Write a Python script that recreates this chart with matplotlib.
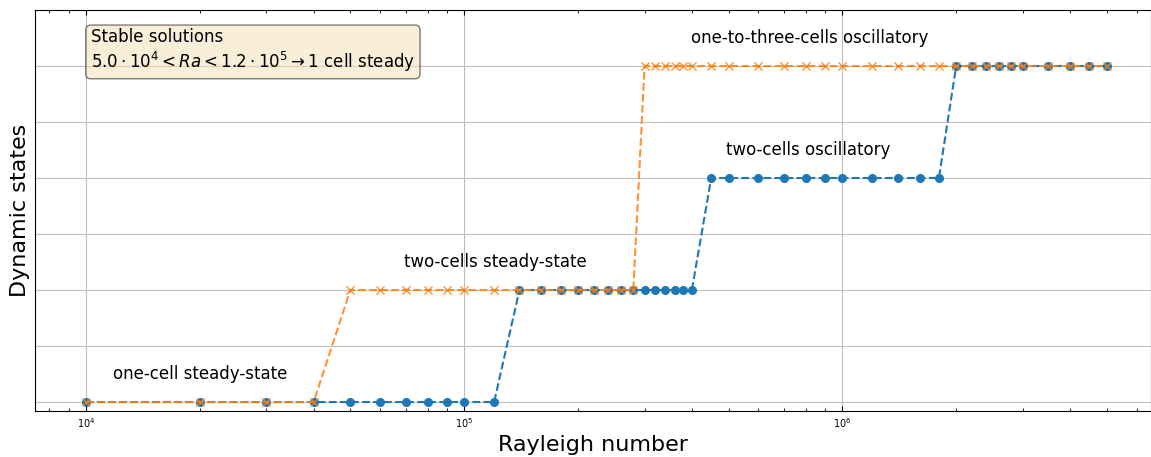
import numpy as np
import matplotlib
matplotlib.use("Agg")
import matplotlib.pyplot as plt

# Rayleigh numbers sampled
ra = [1e4, 2e4, 3e4, 4e4, 5e4, 6e4, 7e4, 8e4, 9e4, 1e5, 1.2e5,
      1.4e5, 1.6e5, 1.8e5, 2e5, 2.2e5, 2.4e5, 2.6e5, 2.8e5,
      3e5, 3.2e5, 3.4e5, 3.6e5, 3.8e5, 4e5,
      4.5e5, 5e5, 6e5, 7e5, 8e5, 9e5, 1e6, 1.2e6, 1.4e6, 1.6e6, 1.8e6,
      2e6, 2.2e6, 2.4e6, 2.6e6, 2.8e6, 3e6, 3.5e6, 4e6, 4.5e6, 5e6]

# dynamic state index (0 one-cell, 2 two-cells steady, 4 two-cells osc, 6 one-to-three osc)
state_up = [0]*11 + [2]*14 + [4]*11 + [6]*10
state_down = [0]*4 + [2]*15 + [6]*27

labels = ["one-cell steady-state", "two-cells steady-state",
          "two-cells oscillatory", "one-to-three-cells oscillatory"]
label_x = [2.0e4, 1.21e5, 8.13e5, 8.2e5]
label_y = [0.5, 2.5, 4.5, 6.5]

fig = plt.figure(figsize=(11.51, 4.57), dpi=100)
ax = fig.add_axes([0.0304, 0.1007, 0.9692, 0.8774])

ax.plot(ra, state_up, "o--", color="tab:blue", markersize=5.5)
ax.plot(ra, state_down, "x--", color="tab:orange", markersize=5.5, alpha=0.85)

for t, xx, yy in zip(labels, label_x, label_y):
    ax.text(xx, yy, t, fontsize=12, ha="center", va="center")

ax.text(0.05, 0.955, "Stable solutions\n$5.0\\cdot10^4 < Ra < 1.2\\cdot10^5 \\rightarrow 1$ cell steady",
        transform=ax.transAxes, fontsize=12, va="top", ha="left",
        bbox=dict(boxstyle="round", facecolor="wheat", alpha=0.5))

ax.set_xscale("log")
ax.set_xlim(7330, 6.53e6)
ax.set_ylim(-0.16, 7.0)
ax.set_yticks(range(7))
ax.set_yticklabels([])
ax.tick_params(axis="y", length=0)
ax.tick_params(axis="x", which="both", direction="in", top=True, labelsize=7)
ax.grid(True, which="major", color="#c0c0c0")
ax.set_xlabel("Rayleigh number", fontsize=16)
ax.set_ylabel("Dynamic states", fontsize=16, labelpad=0)

fig.savefig("out.png", dpi=100)
